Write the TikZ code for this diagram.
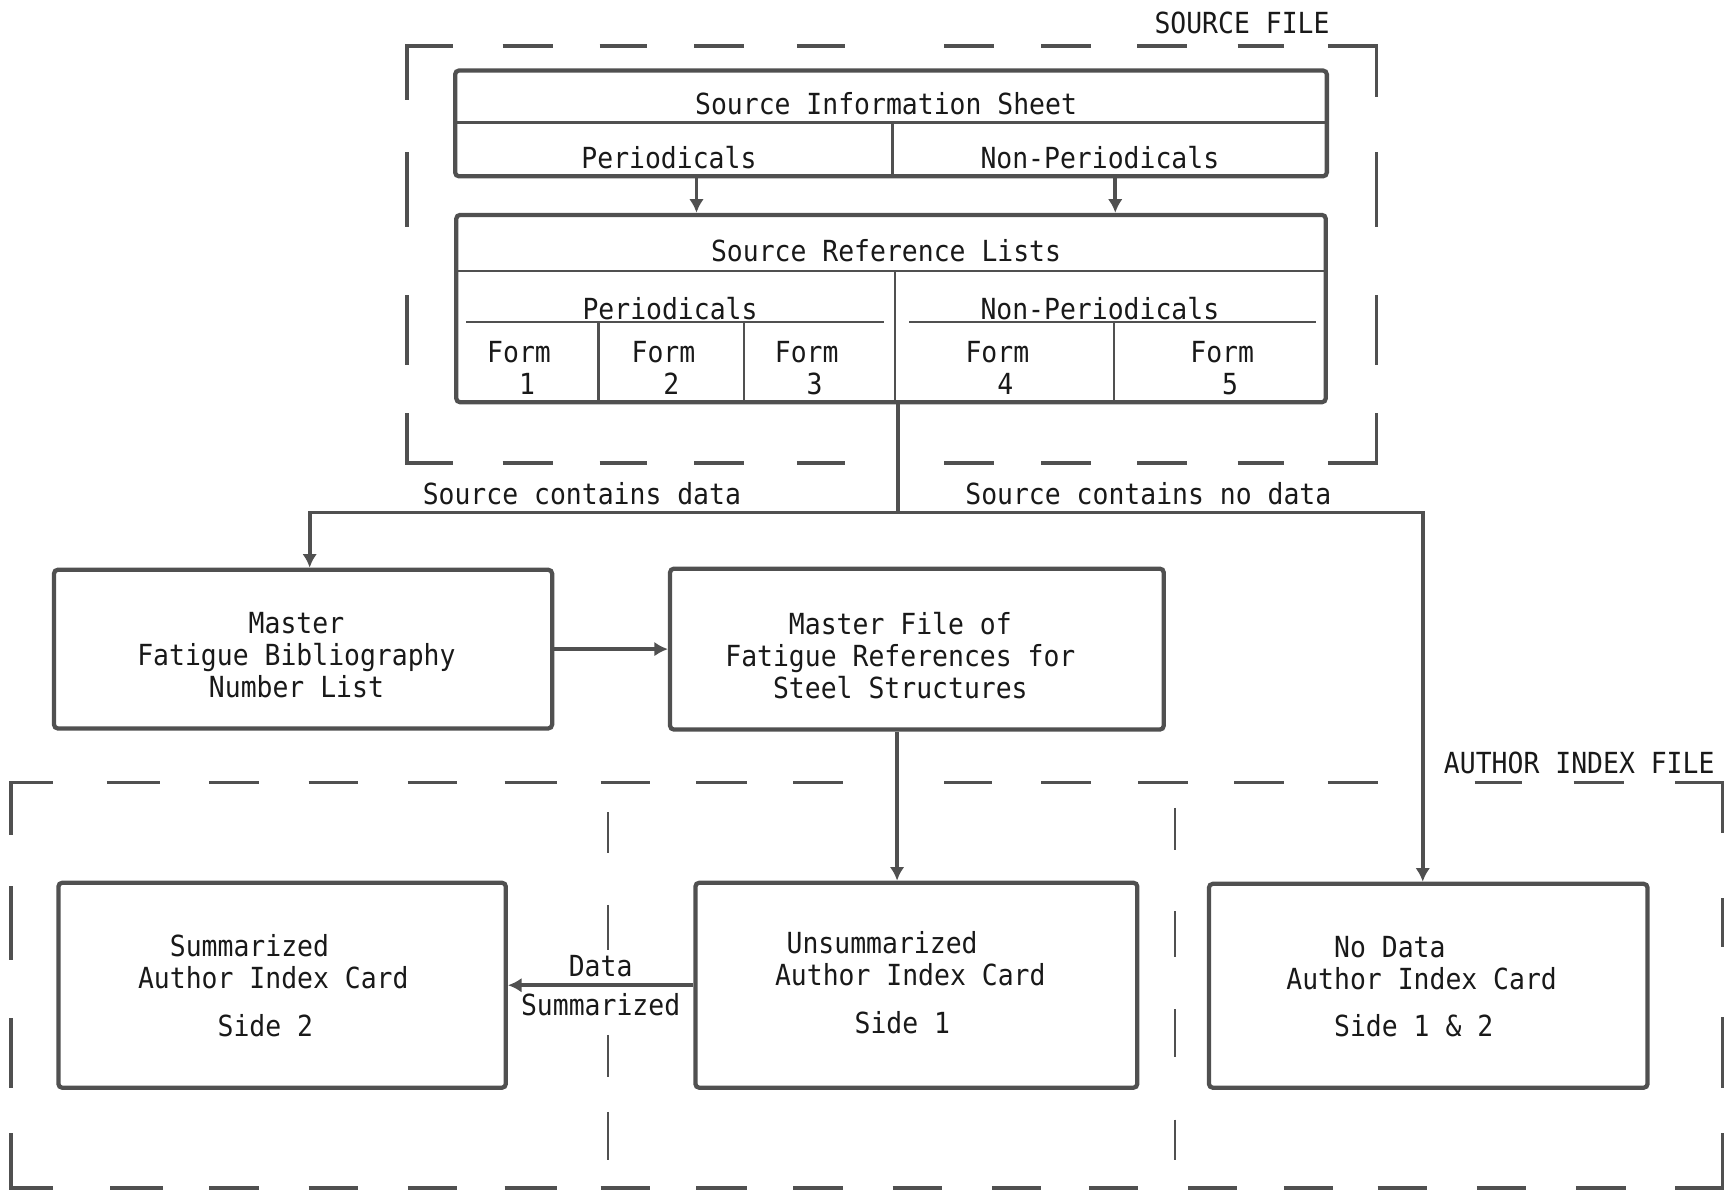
\documentclass[tikz,border=0pt]{standalone}
\usepackage{fontspec}
\setmainfont{DejaVu Sans Mono}[FakeStretch=0.91]
\usetikzlibrary{arrows.meta}
\usetikzlibrary{fit}
\definecolor{ink}{RGB}{80,80,80}
\definecolor{txt}{RGB}{25,25,25}

\begin{document}
\begin{tikzpicture}[x=0.02cm,y=-0.02cm,
  font=\fontsize{15}{16.5}\selectfont, text=txt,
  box/.style={draw=ink, line width=2.2pt, rounded corners=2pt, inner sep=0pt},
  rule/.style={draw=ink, line width=1.3pt},
  conn/.style={draw=ink, line width=2pt},
  arr/.style={draw=ink, line width=2pt, -{Latex[length=7pt,width=7.5pt]}},
  dashln/.style={draw=ink, line width=2pt},
  thinln/.style={draw=ink, line width=1pt},
  lbl/.style={anchor=base, inner sep=0pt},
  boxtxt/.style={anchor=north, inner sep=0pt}]%

\useasboundingbox (0,0) rectangle (1568,1081);

\def\srcL{369}
\def\srcR{1249}
\def\srcT{42}
\def\srcB{420}
\def\autL{10}
\def\autR{1563}
\def\autT{710}
\def\autB{1078}

%source file frame
\draw[dashln] (411,\srcT) -- (\srcL,\srcT) -- (\srcL,91);
\draw[dashln] (1205,\srcT) -- (\srcR,\srcT) -- (\srcR,88);
\draw[dashln] (411,\srcB) -- (\srcL,\srcB) -- (\srcL,375);
\draw[dashln] (1205,\srcB) -- (\srcR,\srcB) -- (\srcR,375);
\foreach \a/\b in {456/502,544/587,630/675,723/767,857/902,945/990,1032/1077,1123/1165}{
  \draw[dashln] (\a,\srcT) -- (\b,\srcT);
  \draw[dashln] (\a,\srcB) -- (\b,\srcB);
}
\foreach \a/\b in {138/206,268/331}{
  \draw[dashln] (\srcL,\a) -- (\srcL,\b);
  \draw[dashln] (\srcR,\a) -- (\srcR,\b);
}
\node[lbl] (srcfile) at (1127,30) {SOURCE FILE};

%author index frame
\draw[dashln] (48,\autT) -- (\autL,\autT) -- (\autL,758);
\draw[dashln] (1520,\autT) -- (\autR,\autT) -- (\autR,756);
\draw[dashln] (48,\autB) -- (\autL,\autB) -- (\autL,1028);
\draw[dashln] (1520,\autB) -- (\autR,\autB) -- (\autR,1028);
\foreach \a/\b in {97/145,190/235,280/325,370/415,458/505,545/590,632/678,720/765,857/900,945/990,1033/1078,1120/1165,1205/1250,1338/1381,1428/1474}
  \draw[dashln] (\a,\autT) -- (\b,\autT);
\foreach \a/\b in {100/148,190/235,280/325,370/415,458/505,545/590,632/678,720/765,810/855,900/945,988/1033,1078/1122,1165/1210,1250/1295,1340/1385,1430/1475}
  \draw[dashln] (\a,\autB) -- (\b,\autB);
\foreach \a/\b in {804/871,924/987}
  \draw[dashln] (\autL,\a) -- (\autL,\b);
\foreach \a/\b in {815/859,923/987}
  \draw[dashln] (\autR,\a) -- (\autR,\b);
\foreach \a/\b in {737/774,821/862,939/977,1009/1053}
  \draw[thinln] (552,\a) -- (552,\b);
\foreach \a/\b in {733/771,827/868,916/959,1016/1053}
  \draw[thinln] (1066,\a) -- (1066,\b);
\node[lbl] (autfile) at (1433,702) {AUTHOR INDEX FILE};

%source information sheet
\node[box, fit={(413,64) (1204,160)}] (sis) {};
\draw[rule] (413,111) -- (1204,111);
\draw[rule] (810,111) -- (810,160);
\node[lbl] (sistitle) at (804,104) {Source Information Sheet};
\node[lbl] (sisper) at (607,153) {Periodicals};
\node[lbl] (sisnon) at (998,153) {Non-Periodicals};

%source reference lists
\node[box, fit={(414,195) (1203,365)}] (srl) {};
\draw[rule] (414,246) -- (1203,246);
\draw[rule] (812,246) -- (812,365);
\draw[rule] (423,292) -- (802,292);
\draw[rule] (825,292) -- (1194,292);
\foreach \x in {543,675,1011}
  \draw[rule] (\x,292) -- (\x,365);
\node[lbl] (srltitle) at (804,237) {Source Reference Lists};
\node[lbl] (srlper) at (608,290) {Periodicals};
\node[lbl] (srlnon) at (998,290) {Non-Periodicals};
\foreach \n/\x in {1/471,2/602,3/732,4/905,5/1109}
  \node[boxtxt, align=left] (form\n) at (\x,309) {Form\\\phantom{Fo}\n};

\coordinate (perx) at (632,0);
\coordinate (nonx) at (1012,0);
\draw[arr] (sis.south -| perx) -- (srl.north -| perx);
\draw[arr] (sis.south -| nonx) -- (srl.north -| nonx);

%master boxes
\node[box, fit={(49,517) (501,661)}] (mfb) {};
\node[boxtxt, align=center] (mfbtxt) at (269,555) {Master\\Fatigue Bibliography\\Number List};
\node[box, fit={(608,516) (1056,662)}] (mfr) {};
\node[boxtxt, align=center] (mfrtxt) at (817,555) {Master File of\\Fatigue References for\\Steel Structures};

%author index cards
\node[box, fit={(53,801) (459,987)}] (summ) {};
\node[boxtxt, align=left] (summtxt) at (248,848)
  {\phantom{xx}Summarized\\Author Index Card\\[8pt]\phantom{xxxxx}Side 2};
\node[box, fit={(631,801) (1032,987)}] (unsum) {};
\node[boxtxt, align=left] (unsumtxt) at (826,845)
  {\hspace*{0.4em}Unsummarized\\Author Index Card\\[8pt]\phantom{xxxxx}Side 1};
\node[box, fit={(1097,802) (1495,987)}] (nodata) {};
\node[boxtxt, align=left] (nodatatxt) at (1290,849)
  {\phantom{xxx}No Data\\Author Index Card\\[8pt]\phantom{xxx}Side 1 \& 2};

%flow
\coordinate (split) at (815,465);
\coordinate (mfbx) at (281,0);
\coordinate (nodx) at (1291,0);
\draw[conn] (srl.south -| split) -- (split);
\draw[arr] (split) -| (mfb.north -| mfbx);
\draw[arr] (split) -| (nodata.north -| nodx);
\node[lbl] (yesdata) at (528,458) {Source contains data};
\node[lbl] (nodatalbl) at (1042,458) {Source contains no data};

\draw[arr] (mfb.east) -- (mfr.west);
\coordinate (mfrx) at (814,0);
\draw[arr] (mfr.south -| mfrx) -- (unsum.north -| mfrx);
\draw[arr] (unsum.west) -- (summ.east)
  node[midway,above] (datalbl) {Data}
  node[midway,below] (sumlbl) {Summarized};

\end{tikzpicture}
\end{document}
